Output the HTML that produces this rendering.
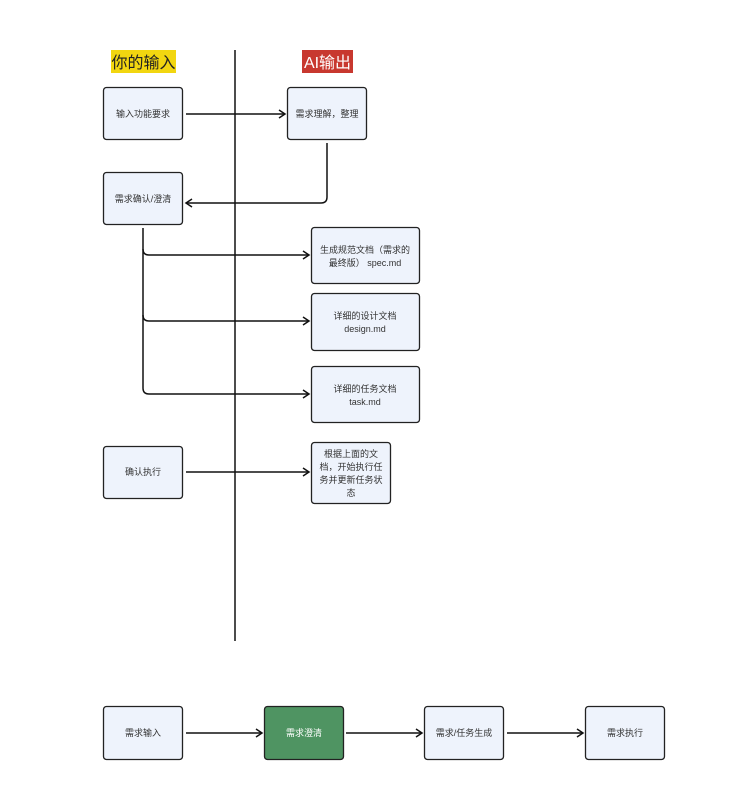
<!DOCTYPE html>
<html><head><meta charset="utf-8"><style>
html,body{margin:0;padding:0;background:#fff;}
svg{display:block;}
text{font-family:"Liberation Sans","Noto Sans CJK SC",sans-serif;}
</style></head><body>
<svg width="731" height="802" viewBox="0 0 731 802" xmlns="http://www.w3.org/2000/svg">
<defs>
<marker id="a" markerWidth="10" markerHeight="10" refX="8" refY="5" orient="auto" markerUnits="userSpaceOnUse">
<path d="M2,1 L8,5 L2,9" fill="none" stroke="#111" stroke-width="1.5"/>
</marker>
</defs>
<!-- titles -->
<rect x="111" y="50" width="65" height="23" fill="#f2d610"/>
<text x="143.5" y="68" font-size="16" text-anchor="middle" fill="#222">你的输入</text>
<rect x="302" y="50" width="51" height="23" fill="#c8382f"/>
<text x="327.5" y="68" font-size="16" text-anchor="middle" fill="#fff">AI输出</text>
<!-- vertical line -->
<line x1="235" y1="50" x2="235" y2="641" stroke="#111" stroke-width="1.5"/>
<g fill="#eef3fc" stroke="#222" stroke-width="1.3">
<rect x="103.5" y="87.5" width="79" height="52" rx="3"/>
<rect x="287.5" y="87.5" width="79" height="52" rx="3"/>
<rect x="103.5" y="172.5" width="79" height="52" rx="3"/>
<rect x="311.5" y="227.5" width="108" height="56" rx="3"/>
<rect x="311.5" y="293.5" width="108" height="57" rx="3"/>
<rect x="311.5" y="366.5" width="108" height="56" rx="3"/>
<rect x="311.5" y="442.5" width="79" height="61" rx="3"/>
<rect x="103.5" y="446.5" width="79" height="52" rx="3"/>
<rect x="103.5" y="706.5" width="79" height="53" rx="3"/>
<rect x="424.5" y="706.5" width="79" height="53" rx="3"/>
<rect x="585.5" y="706.5" width="79" height="53" rx="3"/>
</g>
<rect x="264.5" y="706.5" width="79" height="53" rx="3" fill="#4f9462" stroke="#222" stroke-width="1.3"/>
<g stroke="#111" stroke-width="1.5" fill="none">
<line x1="186" y1="114" x2="285" y2="114" marker-end="url(#a)"/>
<path d="M327,143 V197 Q327,203 321,203 H186" marker-end="url(#a)"/>
<path d="M143,228 V249 Q143,255 149,255 H309" marker-end="url(#a)"/>
<path d="M143,249 V315 Q143,321 149,321 H309" marker-end="url(#a)"/>
<path d="M143,315 V388 Q143,394 149,394 H309" marker-end="url(#a)"/>
<line x1="186" y1="472" x2="309" y2="472" marker-end="url(#a)"/>
<line x1="186" y1="733" x2="262" y2="733" marker-end="url(#a)"/>
<line x1="346" y1="733" x2="422" y2="733" marker-end="url(#a)"/>
<line x1="507" y1="733" x2="583" y2="733" marker-end="url(#a)"/>
</g>
<g font-size="9" fill="#333" text-anchor="middle">
<text x="143" y="117">输入功能要求</text>
<text x="327" y="117">需求理解，整理</text>
<text x="143" y="202">需求确认/澄清</text>
<text x="365" y="253">生成规范文档（需求的</text>
<text x="365" y="266">最终版） spec.md</text>
<text x="365" y="319">详细的设计文档</text>
<text x="365" y="332">design.md</text>
<text x="365" y="392">详细的任务文档</text>
<text x="365" y="405">task.md</text>
<text x="351" y="457">根据上面的文</text>
<text x="351" y="470">档，开始执行任</text>
<text x="351" y="483">务并更新任务状</text>
<text x="351" y="496">态</text>
<text x="143" y="475">确认执行</text>
<text x="143" y="736">需求输入</text>
<text x="304" y="736" fill="#fff">需求澄清</text>
<text x="464" y="736">需求/任务生成</text>
<text x="625" y="736">需求执行</text>
</g>
</svg>
</body></html>
